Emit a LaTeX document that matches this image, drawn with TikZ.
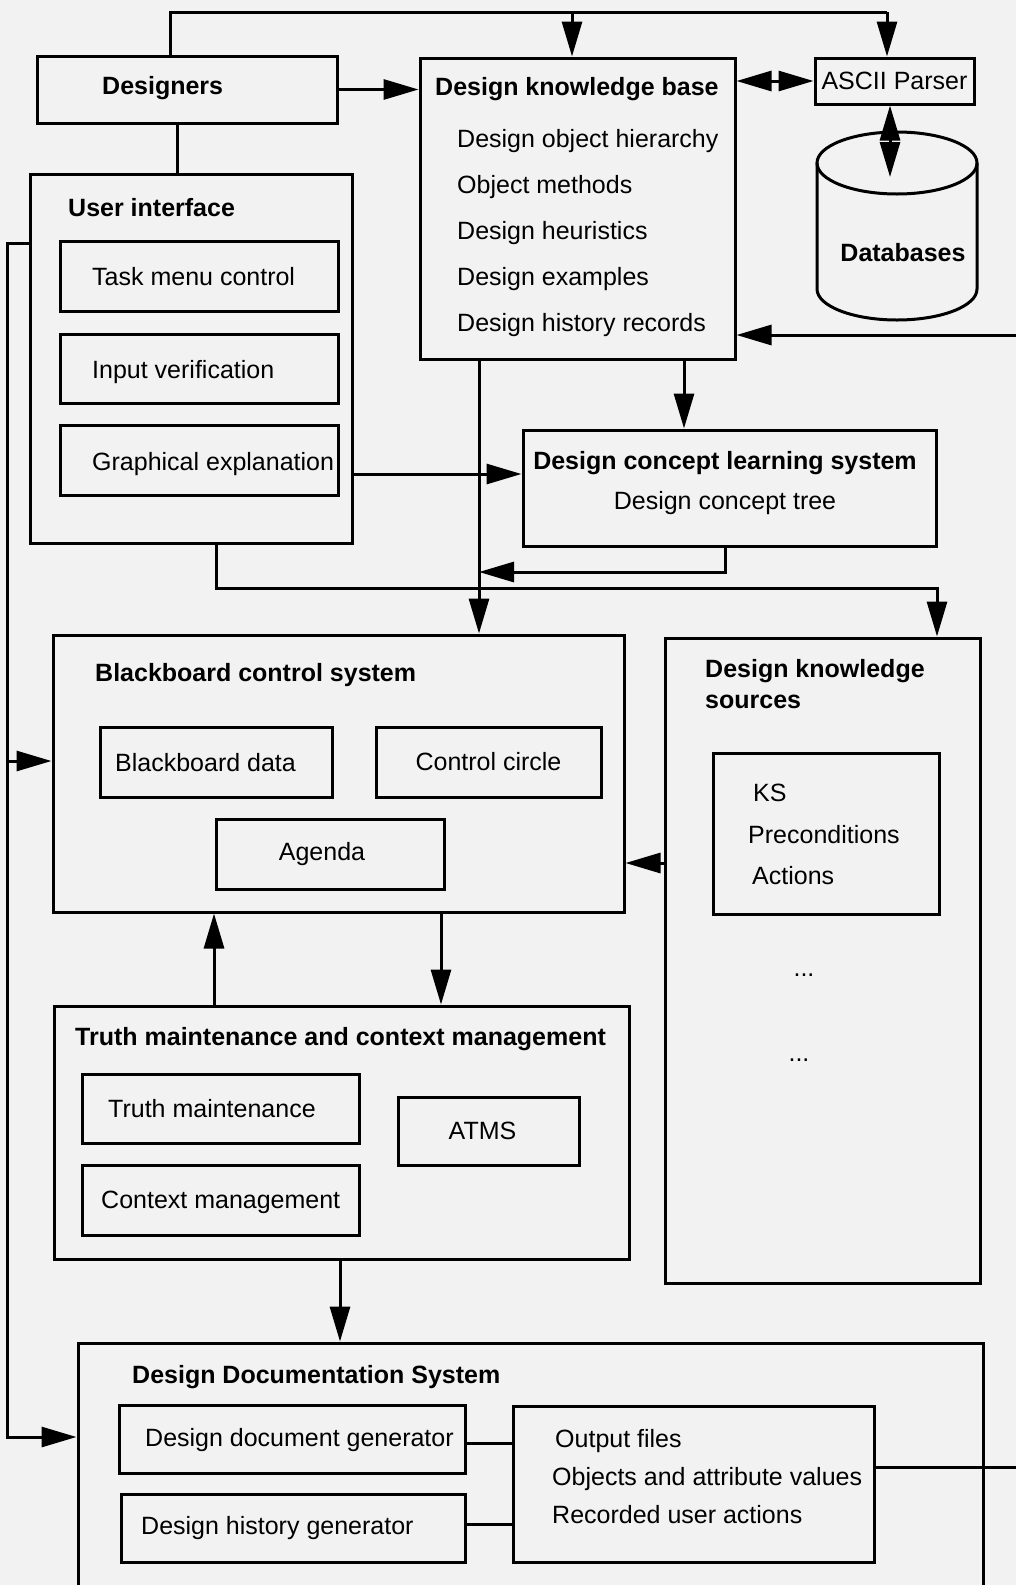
\documentclass[tikz,border=0pt]{standalone}
\usepackage{fontspec}
\setmainfont{Liberation Sans}
\usetikzlibrary{arrows.meta,fit}
\begin{document}
\fontsize{25}{30}\selectfont
\begin{tikzpicture}[x=1pt,y=-1pt,
  box/.style={draw, line width=3pt, inner sep=0pt},
  conn/.style={line width=3pt},
  arr/.style={conn, -{Triangle[length=35pt,width=20pt]}},
  dbl/.style={conn, {Triangle[length=35pt,width=20pt]}-{Triangle[length=35pt,width=20pt]}},
  lbl/.style={anchor=base west, inner sep=0pt},
  hd/.style={lbl, font=\bfseries},
  mid/.style={anchor=base, inner sep=0pt},
]
\useasboundingbox (0,0) rectangle (1016,1585);
\clip (0,0) rectangle (1016,1585);
\fill[black!5] (0,0) rectangle (1016,1585);

% ---------- boxes ----------
\node[box, fit={(37,56) (337,123)}] (des) {};
\node[box, fit={(30,174) (352,543)}] (ui) {};
\node[box, fit={(60,241) (338,311)}] (tmc) {};
\node[box, fit={(60,334) (338,403)}] (iv) {};
\node[box, fit={(60,425) (338,495)}] (ge) {};
\node[box, fit={(420,58) (735,359)}] (dkb) {};
\node[box, fit={(815,58) (974,104)}] (ascii) {};
\node[box, fit={(523,430) (936,546)}] (dcls) {};
\node[box, fit={(53,635) (624,912)}] (bcs) {};
\node[box, fit={(100,727) (332,797)}] (bbd) {};
\node[box, fit={(376,727) (601,797)}] (cc) {};
\node[box, fit={(216,819) (444,889)}] (ag) {};
\node[box, fit={(665,638) (980,1283)}] (dks) {};
\node[box, fit={(713,753) (939,914)}] (ksb) {};
\node[box, fit={(54,1006) (629,1259)}] (tmcm) {};
\node[box, fit={(82,1074) (359,1143)}] (tm) {};
\node[box, fit={(82,1165) (359,1235)}] (cm) {};
\node[box, fit={(398,1097) (579,1165)}] (atms) {};
\node[box, fit={(78,1343) (983,1640)}] (dds) {};
\node[box, fit={(119,1405) (465,1473)}] (ddg) {};
\node[box, fit={(121,1494) (465,1562)}] (dhg) {};
\node[box, fit={(513,1406) (874,1562)}] (out) {};

% database cylinder
\draw[conn] (817,163) -- (817,289) arc[start angle=180, end angle=360, x radius=80pt, y radius=31pt] -- (977,163);
\draw[conn] (897,163) ellipse[x radius=80pt, y radius=31pt];
\node[inner sep=0pt, fit={(817,132) (977,320)}] (db) {};
\coordinate (dbface) at (890,177);

% ---------- texts ----------
\node[hd] (tdes) at (102,94) {Designers};
\node[hd] (tui) at (68,216) {User interface};
\node[lbl] (ttmc) at (92,285) {Task menu control};
\node[lbl] (tiv) at (92,378) {Input verification};
\node[lbl] (tge) at (92,470) {Graphical explanation};
\node[hd] (tdkb) at (435,95) {Design knowledge base};
\node[lbl] (k1) at (457,147) {Design object hierarchy};
\node[lbl] (k2) at (457,193) {Object methods};
\node[lbl] (k3) at (457,239) {Design heuristics};
\node[lbl] (k4) at (457,285) {Design examples};
\node[lbl] (k5) at (457,331) {Design history records};
\node[inner sep=0pt] (tascii) at (ascii.center) {ASCII Parser};
\node[mid, font=\bfseries] (tdb) at (903,261) {Databases};
\node[mid, font=\bfseries] (tdcls) at (725,469) {Design concept learning system};
\node[mid] (tdct) at (725,509) {Design concept tree};
\node[hd] (tbcs) at (95,681) {Blackboard control system};
\node[lbl] (tbbd) at (115,771) {Blackboard data};
\node[inner sep=0pt] (tcc) at (cc.center) {Control circle};
\node[inner sep=0pt] (tag) at ([xshift=-8pt]ag.center) {Agenda};
\node[hd] (tdks1) at (705,677) {Design knowledge};
\node[hd] (tdks2) at (705,708) {sources};
\node[lbl] (tks) at (753,801) {KS};
\node[lbl] (tpre) at (748,843) {Preconditions};
\node[lbl] (tact) at (752,884) {Actions};
\node[mid] (dots1) at (804,976) {...};
\node[mid] (dots2) at (799,1061) {...};
\node[hd] (ttmcm) at (75,1045) {Truth maintenance and context management};
\node[lbl] (ttm) at (108,1117) {Truth maintenance};
\node[lbl] (tcm) at (101,1208) {Context management};
\node[inner sep=0pt] (tatms) at ([xshift=-6pt]atms.center) {ATMS};
\node[hd] (tdds) at (132,1383) {Design Documentation System};
\node[lbl] (tddg) at (145,1446) {Design document generator};
\node[lbl] (tdhg) at (141,1534) {Design history generator};
\node[lbl] (to1) at (555,1447) {Output files};
\node[lbl] (to2) at (552,1485) {Objects and attribute values};
\node[lbl] (to3) at (552,1523) {Recorded user actions};

% ---------- connectors ----------
\coordinate (topL) at (170,12);
\coordinate (topM) at (572,12);
\coordinate (topR) at (887,12);
\draw[conn] (topL |- des.north) -- (topL) -- (topR);
\draw[arr] (topM) -- (topM |- dkb.north);
\draw[arr] (topR) -- (topR |- ascii.north);
\draw[arr] (des.east) -- (des.east -| dkb.west);
\coordinate (dui) at (177,0);
\draw[conn] (dui |- des.south) -- (dui |- ui.north);
\draw[dbl] (ascii.west -| dkb.east) -- (ascii.west);
\draw[dbl] (ascii.south -| dbface) -- (dbface);
\coordinate (rin) at (1030,335);
\draw[arr] (rin) -- (rin -| dkb.east);

% knowledge base downwards
\coordinate (kbA) at (479,0);
\coordinate (kbB) at (684,0);
\draw[arr] (kbB |- dkb.south) -- (kbB |- dcls.north);
\draw[arr] (kbA |- dkb.south) -- (kbA |- bcs.north);
\coordinate (clJ) at (725,572);
\draw[arr] (clJ |- dcls.south) -- (clJ) -- (clJ -| kbA);

% user interface links
\coordinate (uiJ) at (216,588);
\coordinate (ksJ) at (937,588);
\draw[arr] (uiJ |- ui.south) -- (uiJ) -- (ksJ) -- (ksJ |- dks.north);
\coordinate (geY) at (0,474);
\draw[arr] (geY -| ui.east) -- (geY -| dcls.west);
\coordinate (fbA) at (7,243);
\coordinate (fbB) at (7,1437);
\coordinate (fbC) at (7,761);
\draw[arr] (fbA -| ui.west) -- (fbA) -- (fbB) -- (fbB -| dds.west);
\draw[arr] (fbC) -- (fbC -| bcs.west);

% blackboard links
\coordinate (ksY) at (0,863);
\draw[arr] (ksY -| dks.west) -- (ksY -| bcs.east);
\coordinate (upX) at (214,0);
\coordinate (dnX) at (441,0);
\draw[arr] (upX |- tmcm.north) -- (upX |- bcs.south);
\draw[arr] (dnX |- bcs.south) -- (dnX |- tmcm.north);
\coordinate (ddX) at (340,0);
\draw[arr] (ddX |- tmcm.south) -- (ddX |- dds.north);

% documentation system
\coordinate (g1) at (0,1443);
\coordinate (g2) at (0,1524);
\draw[conn] (g1 -| ddg.east) -- (g1 -| out.west);
\draw[conn] (g2 -| dhg.east) -- (g2 -| out.west);
\coordinate (rout) at (1030,1467);
\draw[conn] (rout -| out.east) -- (rout);
\end{tikzpicture}
\end{document}
